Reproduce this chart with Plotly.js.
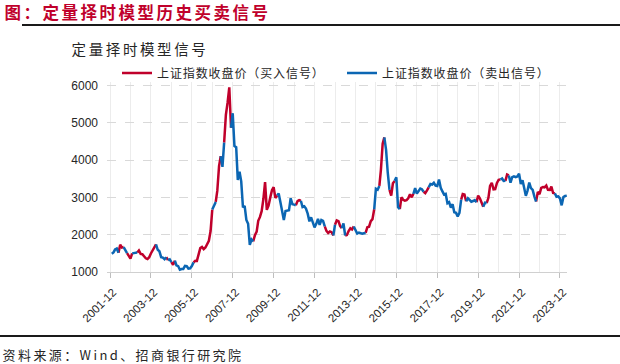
<!DOCTYPE html>
<html><head><meta charset="utf-8">
<script src="https://cdn.plot.ly/plotly-3.0.1.min.js"></script>
<style>
html,body{margin:0;padding:0;background:#fff;}
#chart{width:620px;height:364px;}
#chart .legendtext{letter-spacing:0.9px;}
#chart .annotation[data-index="0"] text{letter-spacing:2.5px;}
#chart .annotation[data-index="1"] text{letter-spacing:2.6px;}
#chart .annotation[data-index="2"] text{letter-spacing:2.4px;}
</style>
</head><body><div id="chart"></div>
<script>
// Monthly closes of the Shanghai Composite, Jan 2002 .. Apr 2024
const startYear = 2002;
const closes = [
 1490,1525,1603,1628,1516,1733,1657,1669,1582,1508,1434,1358, // 2002
 1500,1512,1511,1521,1577,1487,1477,1421,1367,1348,1397,1497, // 2003
 1591,1675,1742,1596,1556,1399,1386,1342,1397,1321,1341,1267, // 2004
 1192,1306,1181,1159,1061,1081,1083,1163,1156,1093,1099,1161, // 2005
 1258,1299,1298,1440,1641,1672,1613,1659,1752,1838,2099,2676, // 2006
 2786,2881,3184,3841,4110,3821,4471,5219,5552,5955,4872,5262, // 2007
 4383,4349,3473,3693,3433,2736,2776,2397,2294,1729,1871,1821, // 2008
 1991,2083,2373,2478,2633,2959,3412,2668,2779,2996,3195,3277, // 2009
 2989,3052,3109,2871,2592,2398,2638,2639,2656,2979,2820,2808, // 2010
 2791,2905,2928,2912,2743,2762,2702,2567,2359,2468,2333,2199, // 2011
 2293,2428,2263,2396,2372,2225,2104,2048,2086,2069,1980,2269, // 2012
 2385,2366,2237,2178,2301,1979,1994,2098,2175,2142,2221,2116, // 2013
 2033,2056,2033,2026,2039,2048,2202,2217,2364,2420,2683,3235, // 2014
 3210,3310,3748,4442,4612,4277,3664,3206,3053,3383,3445,3539, // 2015
 2738,2688,3004,2938,2917,2930,2979,3085,3005,3100,3250,3104, // 2016
 3159,3242,3223,3155,3117,3192,3273,3361,3349,3393,3317,3307, // 2017
 3481,3259,3169,3082,3095,2847,2876,2725,2821,2603,2588,2494, // 2018
 2585,2941,3091,3078,2899,2979,2933,2886,2905,2929,2872,3050, // 2019
 2977,2880,2750,2860,2852,2985,3310,3396,3218,3225,3392,3473, // 2020
 3483,3509,3442,3447,3615,3591,3397,3544,3568,3547,3564,3640, // 2021
 3361,3462,3252,3047,3186,3399,3253,3202,3024,2893,3151,3089, // 2022
 3256,3280,3273,3323,3205,3202,3291,3120,3110,3019,3030,2975, // 2023
 2789,3015,3041,3050                                          // 2024
];
// Signal of the segment ending at each month: 1 = buy (red), 0 = sell (blue)
const signals = [
 0,0,0,0,0,1,1,1,0,0,1,1, // 2002
 1,0,0,0,1,1,1,1,1,1,1,1, // 2003
 1,1,1,0,0,0,0,0,0,1,0,0, // 2004
 1,1,0,0,0,0,0,0,0,0,0,0, // 2005
 0,1,1,1,1,1,1,1,1,1,1,1, // 2006
 0,0,1,1,1,0,0,1,1,1,1,0, // 2007
 0,0,0,0,0,0,0,0,0,0,0,0, // 2008
 1,1,1,1,1,1,1,1,1,1,1,1, // 2009
 1,1,0,0,0,0,0,0,0,0,0,0, // 2010
 0,1,1,1,0,0,0,0,0,0,0,0, // 2011
 0,0,0,0,0,0,1,1,1,1,1,0, // 2012
 1,1,1,1,0,0,1,1,1,1,1,0, // 2013
 0,0,0,0,0,0,1,1,1,1,1,0, // 2014
 0,0,1,1,1,0,0,0,1,1,1,0, // 2015
 0,0,1,1,1,1,1,1,1,1,0,0, // 2016
 0,0,0,0,1,1,1,0,0,0,0,0, // 2017
 0,0,0,0,0,0,0,0,0,0,0,0, // 2018
 0,0,1,1,1,0,0,0,0,0,0,1, // 2019
 1,1,1,0,0,1,1,1,1,1,1,1, // 2020
 1,0,0,0,1,1,0,0,0,0,0,0, // 2021
 0,0,0,0,0,0,0,0,0,0,1,1, // 2022
 1,1,1,1,1,1,1,1,1,0,0,0, // 2023
 0,0,0,0                  // 2024
];
const tickLabels = ['2001-12','2003-12','2005-12','2007-12','2009-12','2011-12','2013-12','2015-12','2017-12','2019-12','2021-12','2023-12'];
const yTicks = [1000,2000,3000,4000,5000,6000];
const seriesNames = ['上证指数收盘价（买入信号）','上证指数收盘价（卖出信号）'];
const RED = '#C0002B', BLUE = '#0B66B3';

const dates = closes.map((_, i) => {
  const y = startYear + Math.floor(i / 12), m = (i % 12) + 1;
  return y + '-' + String(m).padStart(2, '0') + '-01';
});

function build(flag) {
  const xs = [], ys = [];
  for (let k = 1; k < closes.length; k++) {
    if (signals[k] !== flag) continue;
    if (k === 1 || signals[k - 1] !== flag) {
      if (xs.length) { xs.push(null); ys.push(null); }
      xs.push(dates[k - 1]); ys.push(closes[k - 1]);
    }
    xs.push(dates[k]); ys.push(closes[k]);
  }
  return {x: xs, y: ys};
}
const r = build(1), b = build(0);
const traces = [
  {x: r.x, y: r.y, type: 'scatter', mode: 'lines', name: seriesNames[0], connectgaps: false,
   line: {color: RED, width: 2.5}},
  {x: b.x, y: b.y, type: 'scatter', mode: 'lines', name: seriesNames[1], connectgaps: false,
   line: {color: BLUE, width: 2.5}}
];

// helpers: pixel -> paper coords (plot area 107..567 x, 82..272 y)
const L = 107, R = 567, T = 82, B = 272;
const px = v => (v - L) / (R - L);
const py = v => (B - v) / (B - T);
const CJK = '"Noto Sans CJK SC", "Noto Sans", sans-serif';

const layout = {
  width: 620, height: 364,
  margin: {l: L, r: 620 - R, t: T, b: 364 - B, pad: 0},
  paper_bgcolor: '#fff', plot_bgcolor: '#fff',
  showlegend: true,
  legend: {orientation: 'h', x: px(117), y: py(73), xanchor: 'left', yanchor: 'middle',
    font: {family: CJK, size: 12, color: '#262626'}, entrywidth: 180, entrywidthmode: 'pixels',
    itemwidth: 30, tracegroupgap: 0, bgcolor: 'rgba(0,0,0,0)'},
  xaxis: {
    type: 'date', range: ['2001-10-08', '2024-04-05'],
    tickmode: 'array',
    tickvals: tickLabels.map(t => t + '-01'), ticktext: tickLabels,
    tickangle: -45, tickfont: {family: 'Liberation Sans, Arial, sans-serif', size: 11.5, color: '#262626'},
    ticks: 'outside', ticklen: 5, tickcolor: '#bfbfbf',
    ticklabelstandoff: 3, ticklabelshift: 3,
    showgrid: true, gridcolor: '#ececec', gridwidth: 1,
    minor: {dtick: 'M12', tick0: '2001-12-01', showgrid: true, gridcolor: '#ececec', gridwidth: 1, ticks: ''},
    showline: true, linecolor: '#d0d0d0', linewidth: 1, zeroline: false, fixedrange: true
  },
  yaxis: {
    range: [1000, 6100], tickmode: 'array', tickvals: yTicks,
    ticktext: yTicks.map(String),
    tickfont: {family: 'Liberation Sans, Arial, sans-serif', size: 12, color: '#262626'},
    showgrid: true, gridcolor: '#d9d9d9', griddash: 'dash', gridwidth: 1,
    showline: false, zeroline: false, ticks: '', ticklabelstandoff: 8, fixedrange: true
  },
  shapes: [
    {type: 'line', xref: 'paper', yref: 'paper', x0: px(22), x1: px(620), y0: py(25), y1: py(25),
     line: {color: '#1a1a1a', width: 2}},
    {type: 'line', xref: 'paper', yref: 'paper', x0: px(0), x1: px(620), y0: py(336), y1: py(336),
     line: {color: '#1a1a1a', width: 2}}
  ],
  annotations: [
    {text: '<b>图：定量择时模型历史买卖信号</b>', xref: 'paper', yref: 'paper', x: px(137), y: py(12),
     xanchor: 'center', yanchor: 'middle', showarrow: false, font: {family: CJK, size: 16.5, color: RED}},
    {text: '定量择时模型信号', xref: 'paper', yref: 'paper', x: px(140), y: py(48),
     xanchor: 'center', yanchor: 'middle', showarrow: false, font: {family: CJK, size: 14.5, color: '#262626'}},
    {text: '资料来源：Wind、招商银行研究院', xref: 'paper', yref: 'paper', x: px(123), y: py(354),
     xanchor: 'center', yanchor: 'middle', showarrow: false, font: {family: CJK, size: 13, color: '#262626'}}
  ]
};
Plotly.newPlot('chart', traces, layout, {displayModeBar: false, staticPlot: true});
</script></body></html>
